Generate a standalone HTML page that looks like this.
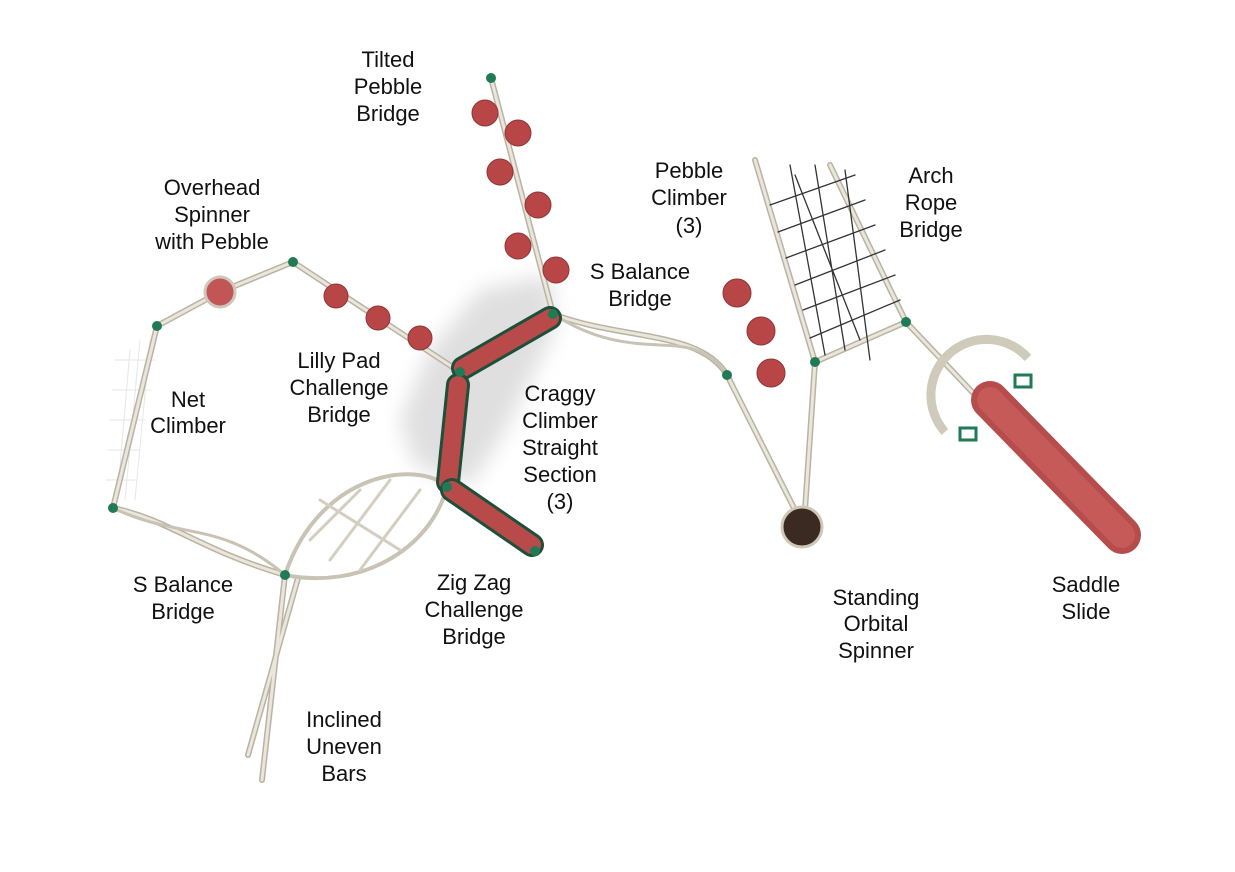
<!DOCTYPE html>
<html><head><meta charset="utf-8"><style>
html,body{margin:0;padding:0;background:#fff;}
svg{display:block;}
text{font-family:"Liberation Sans",sans-serif;font-size:22px;fill:#111;text-anchor:middle;}
</style></head><body>
<svg width="1235" height="872" viewBox="0 0 1235 872" xmlns="http://www.w3.org/2000/svg">
<defs>
<filter id="b" x="-50%" y="-50%" width="200%" height="200%"><feGaussianBlur stdDeviation="10"/></filter>
</defs>
<!-- shadow -->
<path d="M480 290 L550 275 L555 330 L500 440 L470 485 L415 465 L400 420 L430 350 Z" fill="#dcdcdc" filter="url(#b)" opacity="0.9"/>
<g fill="none" stroke-linecap="round">
<!-- faint net climber grid -->
<g stroke="#e6e6e6" stroke-width="1">
<path d="M150 340 L135 500 M140 340 L125 500 M130 350 L118 490"/>
<path d="M115 360 L155 360 M112 390 L150 390 M110 420 L145 420 M108 450 L140 450 M106 480 L135 480"/>
</g>
<g stroke="#b9b3a6" stroke-width="6">
<path d="M491 78 L553 314"/>
<path d="M157 326 L220 292 L293 262 L460 372"/>
<path d="M157 326 L113 508"/>
<path d="M113 508 C170 520,200 550,285 575"/>
<path d="M285 575 L262 780"/>
<path d="M298 578 L248 755"/>
<path d="M553 314 C620 340,700 330,727 375"/>
<path d="M727 375 L800 520"/>
<path d="M815 362 L805 510"/>
<path d="M815 362 L906 322 L975 395"/>
<path d="M755 160 L815 362"/>
<path d="M830 165 L906 322"/>
</g>
<g stroke="#ebe6da" stroke-width="3">
<path d="M491 78 L553 314"/>
<path d="M157 326 L220 292 L293 262 L460 372"/>
<path d="M157 326 L113 508"/>
<path d="M113 508 C170 520,200 550,285 575"/>
<path d="M285 575 L262 780"/>
<path d="M298 578 L248 755"/>
<path d="M553 314 C620 340,700 330,727 375"/>
<path d="M727 375 L800 520"/>
<path d="M815 362 L805 510"/>
<path d="M815 362 L906 322 L975 395"/>
<path d="M755 160 L815 362"/>
<path d="M830 165 L906 322"/>
</g>
<path d="M113 508 C180 540,220 520,285 575" stroke="#c9c3b5" stroke-width="3"/>
<path d="M553 314 C640 370,690 320,727 375" stroke="#c9c3b5" stroke-width="3"/>
<path d="M285 575 C320 470,420 460,447 487" stroke="#c9c3b5" stroke-width="4"/>
<path d="M285 575 C360 590,430 550,447 487" stroke="#c9c3b5" stroke-width="4"/>
<path d="M310 540 L360 490 M330 560 L390 480 M360 570 L420 490 M320 500 L400 550" stroke="#d4cec1" stroke-width="3"/>
<g stroke="#333" stroke-width="1.3">
<path d="M770 205 L855 175 M778 232 L865 200 M786 258 L875 225 M795 285 L885 250 M803 310 L895 275 M810 338 L900 300"/>
<path d="M790 165 L825 355 M815 165 L845 350 M845 170 L870 360 M795 175 L860 340"/>
</g>
</g>
<!-- slide platform -->
<path d="M945 432 A48 48 0 0 1 1028 358" fill="none" stroke="#cfcab9" stroke-width="9"/>
<line x1="990" y1="400" x2="1122" y2="535" stroke="#b74c4c" stroke-width="38" stroke-linecap="round"/>
<line x1="990" y1="400" x2="1122" y2="535" stroke="#c65a59" stroke-width="26" stroke-linecap="round"/>
<rect x="1015" y="375" width="16" height="12" fill="none" stroke="#1f7a55" stroke-width="3"/>
<rect x="960" y="428" width="16" height="12" fill="none" stroke="#1f7a55" stroke-width="3"/>
<g stroke-linecap="round">
<line x1="463" y1="368" x2="550" y2="318" stroke="#1d4f3a" stroke-width="24"/>
<line x1="463" y1="368" x2="550" y2="318" stroke="#b84a4a" stroke-width="18"/>
<line x1="458" y1="385" x2="448" y2="482" stroke="#1d4f3a" stroke-width="24"/>
<line x1="458" y1="385" x2="448" y2="482" stroke="#b84a4a" stroke-width="18"/>
<line x1="452" y1="490" x2="532" y2="545" stroke="#1d4f3a" stroke-width="24"/>
<line x1="452" y1="490" x2="532" y2="545" stroke="#b84a4a" stroke-width="18"/>
</g>
<g fill="#b84646" stroke="#8e3535" stroke-width="1">
<circle cx="485" cy="113" r="13"/><circle cx="518" cy="133" r="13"/><circle cx="500" cy="172" r="13"/>
<circle cx="538" cy="205" r="13"/><circle cx="518" cy="246" r="13"/><circle cx="556" cy="270" r="13"/>
<circle cx="336" cy="296" r="12"/><circle cx="378" cy="318" r="12"/><circle cx="420" cy="338" r="12"/>
<circle cx="737" cy="293" r="14"/><circle cx="761" cy="331" r="14"/><circle cx="771" cy="373" r="14"/>
</g>
<circle cx="220" cy="292" r="15" fill="#c25656" stroke="#cfc8b8" stroke-width="3"/>
<circle cx="802" cy="527" r="20" fill="#3a2a22" stroke="#cfc8b8" stroke-width="3"/>
<g fill="#1f7a55">
<circle cx="491" cy="78" r="5"/><circle cx="293" cy="262" r="5"/><circle cx="157" cy="326" r="5"/>
<circle cx="113" cy="508" r="5"/><circle cx="285" cy="575" r="5"/><circle cx="447" cy="487" r="5"/>
<circle cx="460" cy="372" r="5"/><circle cx="553" cy="314" r="5"/><circle cx="727" cy="375" r="5"/>
<circle cx="815" cy="362" r="5"/><circle cx="906" cy="322" r="5"/><circle cx="535" cy="551" r="5"/>
</g>
<text x="388" y="67">Tilted</text><text x="388" y="94">Pebble</text><text x="388" y="121">Bridge</text>
<text x="212" y="195">Overhead</text><text x="212" y="222">Spinner</text><text x="212" y="249">with Pebble</text>
<text x="689" y="178">Pebble</text><text x="689" y="205">Climber</text><text x="689" y="233">(3)</text>
<text x="931" y="183">Arch</text><text x="931" y="210">Rope</text><text x="931" y="237">Bridge</text>
<text x="640" y="279">S Balance</text><text x="640" y="306">Bridge</text>
<text x="339" y="368">Lilly Pad</text><text x="339" y="395">Challenge</text><text x="339" y="422">Bridge</text>
<text x="188" y="407">Net</text><text x="188" y="433">Climber</text>
<text x="560" y="401">Craggy</text><text x="560" y="428">Climber</text><text x="560" y="455">Straight</text><text x="560" y="482">Section</text><text x="560" y="509">(3)</text>
<text x="183" y="592">S Balance</text><text x="183" y="619">Bridge</text>
<text x="474" y="590">Zig Zag</text><text x="474" y="617">Challenge</text><text x="474" y="644">Bridge</text>
<text x="876" y="605">Standing</text><text x="876" y="631">Orbital</text><text x="876" y="658">Spinner</text>
<text x="1086" y="592">Saddle</text><text x="1086" y="619">Slide</text>
<text x="344" y="727">Inclined</text><text x="344" y="754">Uneven</text><text x="344" y="781">Bars</text>
</svg>
</body></html>
